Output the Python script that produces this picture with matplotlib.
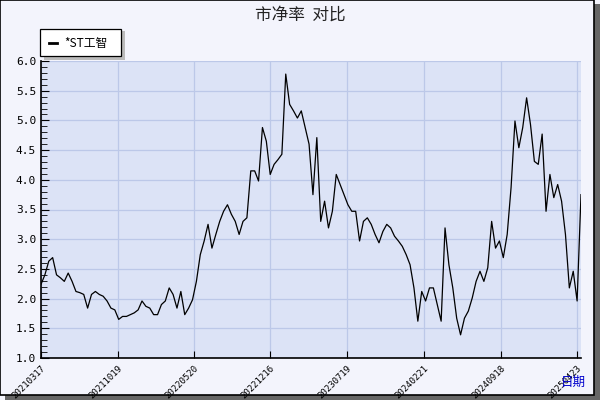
import matplotlib
matplotlib.use("Agg")
import matplotlib.pyplot as plt
from matplotlib.patches import Rectangle
from matplotlib.ticker import MultipleLocator
import numpy as np

plt.rcParams['font.family'] = ['Noto Sans CJK SC', 'DejaVu Sans']

series_name = "*ST工智"
pb_values = [
    2.24, 2.40, 2.63, 2.69, 2.40, 2.35, 2.29, 2.43, 2.29, 2.12, 2.10, 2.07, 1.84, 2.07,
    2.12, 2.07, 2.04, 1.96, 1.84, 1.81, 1.65, 1.70, 1.70, 1.73, 1.76, 1.81, 1.96, 1.87,
    1.84, 1.73, 1.73, 1.90, 1.96, 2.18, 2.07, 1.84, 2.12, 1.73, 1.84, 1.98, 2.29, 2.74,
    2.97, 3.25, 2.85, 3.08, 3.30, 3.47, 3.58, 3.42, 3.30, 3.08, 3.30, 3.36, 4.15, 4.15,
    3.98, 4.88, 4.65, 4.09, 4.26, 4.34, 4.43, 5.78, 5.27, 5.16, 5.04, 5.16, 4.88, 4.60,
    3.75, 4.71,
    3.30, 3.64, 3.19, 3.47, 4.09, 3.92, 3.75, 3.58, 3.47, 3.47, 2.97, 3.30, 3.36, 3.25,
    3.08, 2.94, 3.13, 3.25, 3.19, 3.05, 2.97, 2.88, 2.74, 2.57, 2.18, 1.62, 2.12, 1.96,
    2.18, 2.18, 1.90, 1.62, 3.19, 2.57, 2.18, 1.67, 1.39, 1.67, 1.79, 2.01, 2.29, 2.46,
    2.29, 2.52, 3.30, 2.85, 2.97, 2.69, 3.08, 3.87, 4.99, 4.54, 4.88, 5.38, 4.93, 4.31,
    4.26, 4.77, 3.47, 4.09, 3.70, 3.92, 3.64, 3.08, 2.18, 2.46, 1.96, 3.75,
]
tick_labels = ["20210317", "20211019", "20220520", "20221216",
               "20230719", "20240221", "20240918", "20250423"]
tick_fracs = [0.0, 0.1425, 0.283, 0.424, 0.566, 0.709, 0.852, 0.993]

fig = plt.figure(figsize=(6, 4), dpi=100)
fig.patch.set_facecolor("#f3f4fc")
fig.patches.append(Rectangle((0.008, 0.0), 0.992, 0.99, transform=fig.transFigure,
                             facecolor="#666666", edgecolor="none", zorder=-2))
fig.patches.append(Rectangle((0.0, 0.012), 0.99, 0.988, transform=fig.transFigure,
                             facecolor="#f3f4fc", edgecolor="black", lw=1.2, zorder=-1))

ax = fig.add_axes([41/600, 1-358/400, 540/600, 297/400])
ax.set_facecolor("#dce3f6")
n = len(pb_values)
x = np.arange(n)
ax.plot(x, pb_values, color="black", lw=0.9)
ax.set_xlim(0, n - 1)
ax.set_ylim(1.0, 6.0)
ax.set_xticks([f * (n - 1) for f in tick_fracs])
ax.set_xticklabels(tick_labels, rotation=45, ha="right", va="top", rotation_mode="anchor",
                   fontsize=6.5, family="DejaVu Sans Mono")
ax.yaxis.set_major_locator(MultipleLocator(0.5))
ax.yaxis.set_minor_locator(MultipleLocator(0.1))
ax.set_yticklabels([f"{v:.1f}" for v in ax.get_yticks()], fontsize=8, family="DejaVu Sans Mono")
ax.tick_params(axis="y", which="both", direction="in", length=4)
ax.tick_params(axis="y", which="major", length=6)
ax.tick_params(axis="x", direction="in", length=5, pad=4)
ax.grid(True, color="#bcc8e8", lw=0.9)
for s in ["top", "right"]:
    ax.spines[s].set_visible(False)
for s in ["left", "bottom"]:
    ax.spines[s].set_color("black")
    ax.spines[s].set_linewidth(1.2)

fig.text(0.5, 0.963, "市净率  对比", ha="center", va="center", fontsize=12, color="#222222")
fig.text(0.955, 0.045, "日期", ha="center", va="center", fontsize=9, color="#0000cc")

fig.patches.append(Rectangle((44/600, 1-60/400), 81/600, 29/400, transform=fig.transFigure,
                             facecolor="#bbbbbb", edgecolor="none", zorder=1))
fig.patches.append(Rectangle((40/600, 1-56/400), 81/600, 27/400, transform=fig.transFigure,
                             facecolor="white", edgecolor="black", lw=0.9, zorder=2))
fig.lines.append(plt.Line2D([49/600, 57/600], [1-43/400, 1-43/400], transform=fig.transFigure,
                            color="black", lw=2, zorder=3))
fig.text(64/600, 1-43/400, series_name, ha="left", va="center", fontsize=8.5, zorder=3)

fig.savefig("out.png", dpi=100, facecolor=fig.get_facecolor())
